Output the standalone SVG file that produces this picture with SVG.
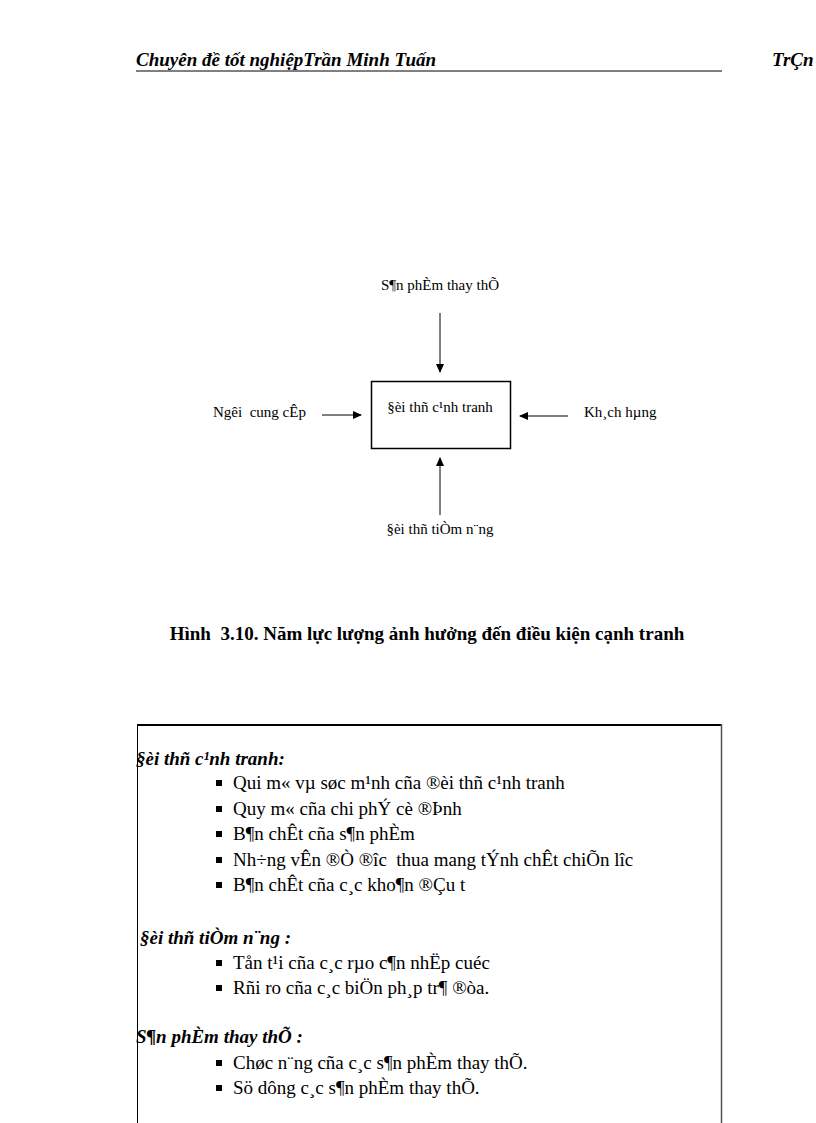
<svg xmlns="http://www.w3.org/2000/svg" width="816" height="1123" viewBox="0 0 816 1123">
<style>
text{font-family:"Liberation Serif","Times New Roman",serif;fill:#000}
.lbl{font-size:15px}
.hdr{font-size:19px;font-weight:bold;font-style:italic}
.cap{font-size:19px;font-weight:bold}
.h{font-size:19px;font-weight:bold;font-style:italic}
.b{font-size:19px}
.conn line{stroke:#000;stroke-width:1}
</style>
<defs>
<marker id="ah" markerWidth="9" markerHeight="8" refX="8" refY="4" orient="auto" markerUnits="userSpaceOnUse">
<path d="M0,0 L9,4 L0,8 Z" fill="#000"/>
</marker>
</defs>
<rect width="816" height="1123" fill="#fff"/>
<g id="header">
<text class="hdr" x="136" y="66">Chuyên đề tốt nghiệpTrần Minh Tuấn</text>
<text class="hdr" x="772" y="66">TrÇn</text>
<line x1="136" y1="71" x2="722" y2="71" stroke="#000" stroke-width="1"/>
</g>
<g id="substitutes"><text class="lbl" x="440" y="290" text-anchor="middle">S¶n phÈm thay thÕ</text></g>
<g id="rivals">
<rect x="371.5" y="381.5" width="139" height="67" fill="none" stroke="#000" stroke-width="1.5"/>
<text class="lbl" x="440" y="412" text-anchor="middle">§èi thñ c¹nh tranh</text>
</g>
<g id="suppliers"><text class="lbl" x="213" y="417">Ngêi&#160; cung cÊp</text></g>
<g id="buyers"><text class="lbl" x="584" y="417">Kh¸ch hµng</text></g>
<g id="entrants"><text class="lbl" x="440" y="534" text-anchor="middle">§èi thñ tiÒm n¨ng</text></g>
<g id="connectors" class="conn">
<line x1="440" y1="313" x2="440" y2="372" marker-end="url(#ah)"/>
<line x1="322" y1="415" x2="361" y2="415" marker-end="url(#ah)"/>
<line x1="568" y1="416" x2="520" y2="416" marker-end="url(#ah)"/>
<line x1="440" y1="515" x2="440" y2="458" marker-end="url(#ah)"/>
</g>
<g id="caption"><text class="cap" x="427" y="640" text-anchor="middle">Hình&#160; 3.10. Năm lực lượng ảnh hưởng đến điều kiện cạnh tranh</text></g>
<g id="textbox">
<line x1="137" y1="725" x2="722" y2="725" stroke="#000" stroke-width="2"/>
<line x1="137.5" y1="724" x2="137.5" y2="1123" stroke="#000" stroke-width="1"/>
<line x1="721.5" y1="724" x2="721.5" y2="1123" stroke="#555" stroke-width="1.5"/>
<text class="h" x="136" y="765">§èi thñ c¹nh tranh:</text>
<rect x="216" y="780" width="6" height="6"/><text class="b" x="233" y="789">Qui m« vµ søc m¹nh cña ®èi thñ c¹nh tranh</text>
<rect x="216" y="806" width="6" height="6"/><text class="b" x="233" y="815">Quy m« cña chi phÝ cè ®Þnh</text>
<rect x="216" y="831" width="6" height="6"/><text class="b" x="233" y="840">B¶n chÊt cña s¶n phÈm</text>
<rect x="216" y="857" width="6" height="6"/><text class="b" x="233" y="866">Nh÷ng vÊn ®Ò ®îc&#160; thua mang tÝnh chÊt chiÕn lîc</text>
<rect x="216" y="882" width="6" height="6"/><text class="b" x="233" y="891">B¶n chÊt cña c¸c kho¶n ®Çu t</text>
<text class="h" x="140" y="944">§èi thñ tiÒm n¨ng :</text>
<rect x="216" y="960" width="6" height="6"/><text class="b" x="233" y="969">Tån t¹i cña c¸c rµo c¶n nhËp cuéc</text>
<rect x="216" y="985" width="6" height="6"/><text class="b" x="233" y="994">Rñi ro cña c¸c biÖn ph¸p tr¶ ®òa.</text>
<text class="h" x="136" y="1043">S¶n phÈm thay thÕ :</text>
<rect x="216" y="1060" width="6" height="6"/><text class="b" x="233" y="1069">Chøc n¨ng cña c¸c s¶n phÈm thay thÕ.</text>
<rect x="216" y="1085" width="6" height="6"/><text class="b" x="233" y="1094">Sö dông c¸c s¶n phÈm thay thÕ.</text>
</g>
</svg>
